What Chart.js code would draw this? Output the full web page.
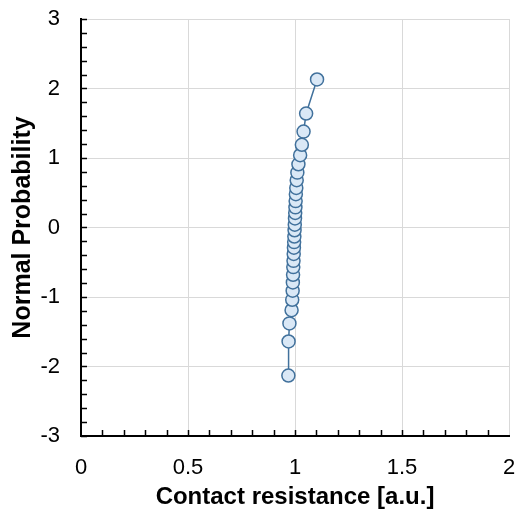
<!DOCTYPE html>
<html>
<head>
<meta charset="utf-8">
<script src="https://cdn.jsdelivr.net/npm/chart.js@4"></script>
<style>
  html, body { margin: 0; padding: 0; background: #fff; }
  #wrap { width: 517px; height: 512px; }
</style>
</head>
<body>
<div id="wrap"><canvas id="chart" width="517" height="512"></canvas></div>
<script>
// contact resistance (a.u.), sorted
const resistance = [0.969, 0.970, 0.974, 0.984, 0.987, 0.989, 0.990, 0.991, 0.992, 0.993,
  0.994, 0.995, 0.996, 0.997, 0.998, 0.999, 1.000, 1.001, 1.002, 1.003,
  1.004, 1.006, 1.008, 1.011, 1.016, 1.024, 1.032, 1.040, 1.052, 1.103];
// normal probability (z-score) of each point
const normalProb = [-2.13, -1.64, -1.38, -1.19, -1.04, -0.91, -0.79, -0.68, -0.57, -0.48,
  -0.38, -0.29, -0.21, -0.13, -0.04, 0.04, 0.13, 0.21, 0.29, 0.38,
  0.48, 0.57, 0.68, 0.79, 0.91, 1.04, 1.19, 1.38, 1.64, 2.13];
const xTicks = [0, 0.5, 1, 1.5, 2];
const yTicks = [-3, -2, -1, 0, 1, 2, 3];

const points = resistance.map((x, i) => ({ x: x, y: normalProb[i] }));

// little inward minor tick marks like the spreadsheet chart
const minorTicks = {
  id: 'minorTicks',
  afterDraw(chart) {
    const { ctx, chartArea, scales } = chart;
    ctx.save();
    ctx.strokeStyle = '#000';
    ctx.lineWidth = 1.5;
    ctx.beginPath();
    for (let v = 0.1; v < 2; v += 0.1) {
      const px = Math.round(scales.x.getPixelForValue(v)) + 0.5;
      ctx.moveTo(px, chartArea.bottom);
      ctx.lineTo(px, chartArea.bottom - 6);
    }
    for (let v = -3; v <= 3.001; v += 0.2) {
      const py = Math.round(scales.y.getPixelForValue(v)) + 0.5;
      ctx.moveTo(chartArea.left, py);
      ctx.lineTo(chartArea.left + 6, py);
    }
    ctx.stroke();
    ctx.restore();
  }
};

const tickFont = { family: 'Liberation Sans, Arial', size: 22 };
const titleFont = { family: 'Liberation Sans, Arial', size: 24, weight: 'bold' };

new Chart(document.getElementById('chart').getContext('2d'), {
  type: 'scatter',
  data: {
    datasets: [{
      data: points,
      showLine: true,
      borderColor: '#41719c',
      borderWidth: 1.5,
      backgroundColor: '#dae8f6',
      pointBackgroundColor: '#dae8f6',
      pointBorderColor: '#41719c',
      pointBorderWidth: 1.5,
      pointRadius: 6.5,
      tension: 0
    }]
  },
  options: {
    responsive: false,
    animation: false,
    layout: { padding: { top: 19, right: 7, bottom: 0, left: 8 } },
    plugins: {
      legend: { display: false },
      tooltip: { enabled: false }
    },
    scales: {
      x: {
        type: 'linear',
        min: 0,
        max: 2,
        afterBuildTicks: (scale) => { scale.ticks = xTicks.map(v => ({ value: v })); },
        afterFit: (scale) => {
          scale.height = 76;
          scale.paddingLeft = 0;
          scale.paddingRight = 0;
        },
        ticks: { color: '#000', font: tickFont, padding: 19, callback: (v) => String(v) },
        grid: { color: '#d9d9d9', lineWidth: 1, drawTicks: false },
        border: { color: '#000', width: 2 },
        title: {
          display: true,
          text: 'Contact resistance [a.u.]',
          color: '#000',
          font: titleFont,
          padding: { top: 1, bottom: 0 }
        }
      },
      y: {
        type: 'linear',
        min: -3,
        max: 3,
        afterBuildTicks: (scale) => { scale.ticks = yTicks.map(v => ({ value: v })); },
        afterFit: (scale) => {
          scale.width = 73;
          scale.paddingTop = 0;
          scale.paddingBottom = 0;
        },
        ticks: { color: '#000', font: tickFont, padding: 21, callback: (v) => String(v) },
        grid: { color: '#d9d9d9', lineWidth: 1, drawTicks: false },
        border: { color: '#000', width: 2 },
        title: {
          display: true,
          text: 'Normal Probability',
          color: '#000',
          font: { family: 'Liberation Sans, Arial', size: 25, weight: 'bold' },
          padding: { top: 0, bottom: 3 }
        }
      }
    }
  },
  plugins: [minorTicks]
});
</script>
</body>
</html>
